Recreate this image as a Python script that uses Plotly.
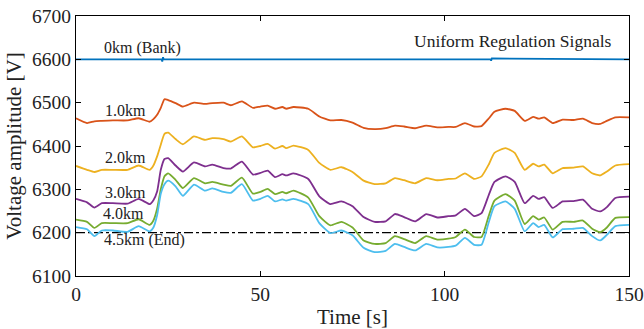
import plotly.graph_objects as go

# ---- data ----
time_s = [0, 3, 5, 7, 10, 14, 17, 20, 21, 22, 23, 24, 25, 27, 29, 32, 35, 37, 40, 42, 45, 48, 50, 52, 54, 56, 57, 59,
          63, 66, 69, 72, 75, 78, 81, 84, 86.5, 89, 92, 95, 98, 101, 103, 105.5, 108, 110, 112, 113.5, 116.5, 119,
          121.7, 124, 125.5, 127, 129.3, 132, 135, 137.5, 140, 142.2, 144, 146.3, 150]

v_1km = [6464, 6453, 6457, 6458, 6459, 6459, 6464, 6456, 6462, 6472, 6488, 6508, 6506, 6499, 6491, 6500, 6497, 6499,
         6500, 6494, 6503, 6488, 6491, 6493, 6486, 6490, 6486, 6490, 6486, 6468, 6459, 6460, 6454, 6442, 6439, 6441,
         6447, 6445, 6441, 6447, 6443, 6444, 6444, 6453, 6445, 6446, 6464, 6479, 6486, 6481, 6458, 6467, 6463, 6466,
         6453, 6461, 6460, 6463, 6453, 6451, 6458, 6466, 6466]

v_2km = [6354, 6345, 6340, 6345, 6345, 6345, 6355, 6345, 6355, 6376, 6403, 6428, 6431, 6416, 6404, 6422, 6414, 6418,
         6416, 6410, 6422, 6397, 6400, 6405, 6394, 6400, 6395, 6401, 6391, 6361, 6345, 6351, 6340, 6320, 6312, 6314,
         6326, 6321, 6314, 6326, 6321, 6324, 6325, 6337, 6324, 6330, 6358, 6384, 6395, 6384, 6345, 6359, 6353, 6357,
         6337, 6349, 6350, 6353, 6337, 6332, 6341, 6355, 6358]

v_3km = [6278, 6270, 6258, 6268, 6268, 6267, 6278, 6266, 6275, 6295, 6345, 6370, 6372, 6355, 6341, 6362, 6353, 6357,
         6349, 6348, 6364, 6334, 6338, 6343, 6328, 6335, 6332, 6337, 6324, 6284, 6266, 6272, 6261, 6236, 6225, 6226,
         6243, 6236, 6226, 6243, 6235, 6238, 6240, 6255, 6238, 6245, 6288, 6317, 6330, 6317, 6268, 6285, 6278, 6282,
         6257, 6272, 6273, 6276, 6255, 6249, 6259, 6280, 6283]

v_4km = [6230, 6225, 6211, 6222, 6222, 6222, 6231, 6218, 6228, 6255, 6300, 6330, 6337, 6322, 6303, 6326, 6314, 6317,
         6311, 6308, 6327, 6290, 6294, 6301, 6289, 6294, 6291, 6297, 6281, 6238, 6217, 6225, 6212, 6182, 6174, 6176,
         6192, 6185, 6176, 6192, 6184, 6186, 6190, 6207, 6190, 6190, 6240, 6274, 6289, 6274, 6220, 6238, 6230, 6235,
         6207, 6225, 6225, 6228, 6209, 6201, 6212, 6234, 6236]

v_45km = [6213, 6208, 6192, 6205, 6205, 6202, 6215, 6203, 6212, 6240, 6290, 6312, 6320, 6307, 6285, 6311, 6297, 6302,
          6294, 6292, 6312, 6274, 6278, 6285, 6272, 6277, 6274, 6278, 6266, 6222, 6199, 6205, 6194, 6165, 6155, 6158,
          6174, 6167, 6159, 6174, 6166, 6167, 6170, 6188, 6172, 6172, 6225, 6261, 6272, 6255, 6203, 6222, 6213, 6218,
          6189, 6208, 6209, 6211, 6192, 6182, 6195, 6215, 6218]

time_bank = [0, 23.2, 23.4, 23.6, 23.8, 112.4, 112.6, 112.8, 150]
v_bank = [6600, 6600, 6595, 6605, 6600, 6600, 6597, 6602, 6600]

lower_limit = 6200
x_ticks = [0, 50, 100, 150]
y_ticks = [6100, 6200, 6300, 6400, 6500, 6600, 6700]

labels = ["0km (Bank)", "1.0km", "2.0km", "3.0km", "4.0km", "4.5km (End)"]
label_t = [18, 13.4, 13.4, 13.4, 12.9, 18.6]
label_v = [6626, 6483, 6373, 6292, 6244, 6182]

# ---- figure ----
FONT = "Liberation Serif"
colors = ["#0072BD", "#D95319", "#EDB120", "#7E2F8E", "#77AC30", "#4DBEEE"]

fig = go.Figure()
fig.add_trace(go.Scatter(x=[0, 150], y=[lower_limit, lower_limit], mode="lines",
                         line=dict(color="black", width=1.2, dash="dashdot"), showlegend=False))
fig.add_trace(go.Scatter(x=time_bank, y=v_bank, mode="lines",
                         line=dict(color=colors[0], width=1.8), showlegend=False))
for v, c in zip([v_1km, v_2km, v_3km, v_4km, v_45km], colors[1:]):
    fig.add_trace(go.Scatter(x=time_s, y=v, mode="lines",
                             line=dict(color=c, width=1.8, shape="spline", smoothing=0.5),
                             showlegend=False))

for txt, t, v in zip(labels, label_t, label_v):
    fig.add_annotation(x=t, y=v, text=txt, showarrow=False,
                       font=dict(family=FONT, size=16, color="#222"))
fig.add_annotation(x=118.6, y=6642, text="Uniform Regulation Signals", showarrow=False,
                   font=dict(family=FONT, size=17.5, color="#222"))

axis_common = dict(showline=True, linecolor="black", linewidth=1.3, mirror="ticks",
                   ticks="inside", ticklen=5, tickcolor="black", showgrid=False, zeroline=False,
                   automargin=False, tickfont=dict(family=FONT, size=19.5, color="#222"))
fig.update_xaxes(range=[0, 150], tickvals=x_ticks, title=dict(text="Time [s]", standoff=6,
                 font=dict(family=FONT, size=21, color="#222")), **axis_common)
fig.update_yaxes(range=[6100, 6700], tickvals=y_ticks, title=dict(text="Voltage amplitude [V]", standoff=4,
                 font=dict(family=FONT, size=21, color="#222")), **axis_common)

fig.update_layout(width=644, height=329, margin=dict(l=76, r=15, t=16, b=53),
                  paper_bgcolor="white", plot_bgcolor="white")
fig.write_html("out.html")
